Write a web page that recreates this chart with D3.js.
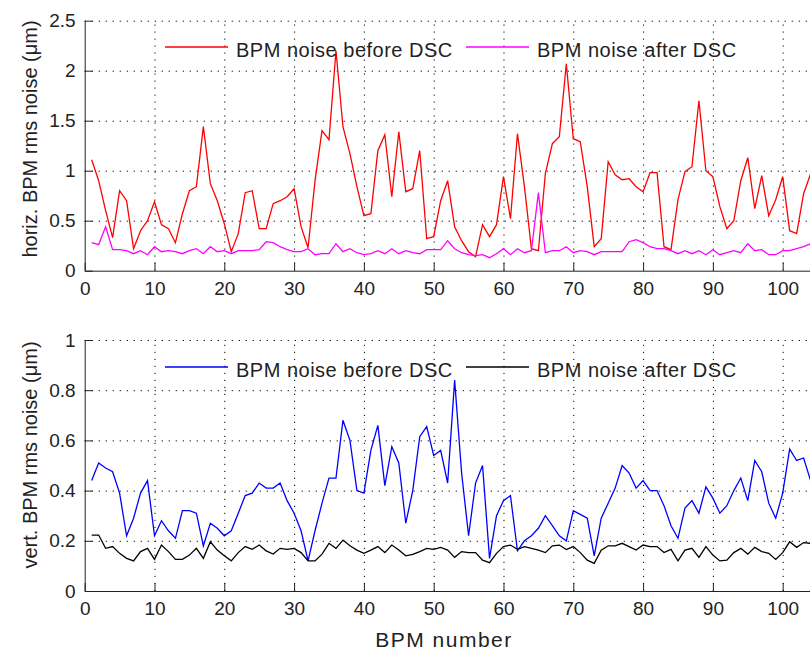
<!DOCTYPE html>
<html>
<head>
<meta charset="utf-8">
<script src="https://cdn.jsdelivr.net/npm/d3@7"></script>
<style>
  body { margin: 0; background: #fff; }
  svg { display: block; font-family: "Liberation Sans", Arial, sans-serif; }
  .tick text { fill: #222; }
  .grid line { stroke: #000; stroke-dasharray: 1.2 5.8; }
  .grid path { display: none; }
  .axis path, .axis line { stroke: #222; }
</style>
</head>
<body>
<svg id="chart"></svg>
<script>
// BPM index along x
const bpmNumbers = d3.range(1, 105);
const xTicks = [0, 10, 20, 30, 40, 50, 60, 70, 80, 90, 100];
const horizTicks = [0, 0.5, 1, 1.5, 2, 2.5];
const vertTicks = [0, 0.2, 0.4, 0.6, 0.8, 1];

// horizontal noise, um
const horizBefore = [
  1.11, 0.9, 0.6, 0.33, 0.8, 0.7, 0.22, 0.4, 0.5, 0.69,
  0.46, 0.42, 0.28, 0.57, 0.8, 0.84, 1.44, 0.87, 0.7, 0.47,
  0.19, 0.37, 0.78, 0.8, 0.42, 0.42, 0.67, 0.7, 0.74, 0.82,
  0.44, 0.23, 0.9, 1.4, 1.31, 2.2, 1.44, 1.17, 0.84, 0.55,
  0.57, 1.2, 1.36, 0.74, 1.39, 0.79, 0.82, 1.2, 0.32, 0.34,
  0.7, 0.9, 0.44, 0.3, 0.19, 0.14, 0.46, 0.34, 0.46, 0.94,
  0.52, 1.37, 0.84, 0.22, 0.2, 0.97, 1.27, 1.34, 2.07, 1.32,
  1.29, 0.84, 0.24, 0.32, 1.09, 0.96, 0.91, 0.92, 0.84, 0.79,
  0.98, 0.98, 0.24, 0.21, 0.71, 0.99, 1.04, 1.7, 1.0, 0.94,
  0.64, 0.42, 0.5, 0.9, 1.13, 0.62, 0.95, 0.55, 0.71, 0.94,
  0.4, 0.37, 0.77, 0.97
];
const horizAfter = [
  0.28, 0.26, 0.44, 0.21, 0.21, 0.2, 0.17, 0.2, 0.16, 0.24,
  0.19, 0.2, 0.19, 0.17, 0.2, 0.22, 0.17, 0.24, 0.19, 0.2,
  0.17, 0.2, 0.2, 0.2, 0.21, 0.29, 0.28, 0.24, 0.21, 0.19,
  0.19, 0.22, 0.16, 0.17, 0.17, 0.27, 0.19, 0.22, 0.18, 0.16,
  0.17, 0.2, 0.17, 0.22, 0.17, 0.2, 0.18, 0.17, 0.21, 0.21,
  0.21, 0.3, 0.22, 0.18, 0.16, 0.15, 0.16, 0.13, 0.17, 0.22,
  0.16, 0.22, 0.18, 0.2, 0.78, 0.18, 0.2, 0.2, 0.24, 0.18,
  0.2, 0.19, 0.16, 0.19, 0.19, 0.19, 0.19, 0.29, 0.31, 0.28,
  0.24, 0.22, 0.22, 0.2, 0.17, 0.2, 0.17, 0.2, 0.16, 0.21,
  0.16, 0.18, 0.2, 0.18, 0.27, 0.2, 0.21, 0.16, 0.16, 0.2,
  0.2, 0.22, 0.24, 0.27
];

// vertical noise, um
const vertBefore = [
  0.44, 0.51, 0.49, 0.475, 0.39, 0.22, 0.29, 0.39, 0.44, 0.22,
  0.28, 0.24, 0.21, 0.32, 0.32, 0.31, 0.18, 0.27, 0.25, 0.22,
  0.24, 0.31, 0.38, 0.39, 0.43, 0.41, 0.41, 0.43, 0.36, 0.31,
  0.24, 0.12, 0.24, 0.35, 0.45, 0.45, 0.68, 0.6, 0.4, 0.39,
  0.56, 0.66, 0.42, 0.575, 0.51, 0.27, 0.4, 0.615, 0.655, 0.54,
  0.56, 0.43, 0.84, 0.47, 0.22, 0.43, 0.5, 0.13, 0.3, 0.36,
  0.38, 0.16, 0.2, 0.22, 0.25, 0.3, 0.26, 0.22, 0.2, 0.32,
  0.305, 0.29, 0.14, 0.29, 0.35, 0.41, 0.5, 0.47, 0.41, 0.44,
  0.4, 0.4, 0.34, 0.26, 0.21, 0.33, 0.36, 0.31, 0.415, 0.37,
  0.31, 0.34, 0.4, 0.45, 0.36, 0.52, 0.475, 0.35, 0.29, 0.39,
  0.565, 0.52, 0.53, 0.44
];
const vertAfter = [
  0.223, 0.223, 0.17, 0.177, 0.15, 0.13, 0.12, 0.157, 0.17, 0.126,
  0.183, 0.157, 0.126, 0.126, 0.143, 0.17, 0.13, 0.196, 0.163, 0.14,
  0.12, 0.153, 0.177, 0.166, 0.183, 0.16, 0.147, 0.17, 0.166, 0.17,
  0.153, 0.12, 0.12, 0.147, 0.19, 0.17, 0.203, 0.18, 0.163, 0.15,
  0.163, 0.177, 0.153, 0.183, 0.163, 0.14, 0.146, 0.157, 0.17, 0.166,
  0.174, 0.163, 0.134, 0.157, 0.153, 0.153, 0.123, 0.113, 0.15, 0.177,
  0.183, 0.166, 0.177, 0.17, 0.163, 0.153, 0.18, 0.183, 0.165, 0.177,
  0.153, 0.123, 0.11, 0.163, 0.18, 0.18, 0.19, 0.177, 0.163, 0.183,
  0.177, 0.177, 0.153, 0.166, 0.12, 0.163, 0.17, 0.134, 0.177, 0.143,
  0.12, 0.123, 0.153, 0.17, 0.147, 0.174, 0.157, 0.15, 0.126, 0.153,
  0.196, 0.174, 0.193, 0.19
];

const width = 810, height = 652;
const svg = d3.select('#chart').attr('width', width).attr('height', height);

const x = d3.scaleLinear().domain([0, 104]).range([84.7, 810.6]);

function drawPanel(opts) {
  const y = d3.scaleLinear().domain(opts.domain).range([opts.bottom, opts.top]);
  const g = svg.append('g');

  // dotted grid
  g.append('g').attr('class', 'grid')
    .attr('transform', `translate(0,${opts.bottom})`)
    .call(d3.axisBottom(x).tickValues(xTicks.slice(1)).tickSize(-(opts.bottom - opts.top)).tickFormat(''));
  g.append('g').attr('class', 'grid')
    .attr('transform', `translate(${x(0)},0)`)
    .call(d3.axisLeft(y).tickValues(opts.ticks.slice(1)).tickSize(-(x.range()[1] - x(0))).tickFormat(''));

  // axes with inward ticks
  g.append('g').attr('class', 'axis')
    .attr('transform', `translate(0,${opts.bottom})`)
    .call(d3.axisBottom(x).tickValues(xTicks).tickSizeInner(-8).tickSizeOuter(0).tickPadding(11));
  g.append('g').attr('class', 'axis')
    .attr('transform', `translate(${x(0)},0)`)
    .call(d3.axisLeft(y).tickValues(opts.ticks).tickSizeInner(-8).tickSizeOuter(0).tickPadding(9)
      .tickFormat(d3.format('')));
  g.selectAll('.axis text').style('font-size', '19px');

  const line = d3.line().x((d, i) => x(bpmNumbers[i])).y(d => y(d));
  opts.series.forEach(s => {
    g.append('path').datum(s.values)
      .attr('fill', 'none').attr('stroke', s.color).attr('stroke-width', 1.3)
      .attr('d', line);
  });

  // legend, no box
  opts.series.forEach(s => {
    g.append('line')
      .attr('x1', s.lx).attr('x2', s.lx + 63)
      .attr('y1', opts.legendY).attr('y2', opts.legendY)
      .attr('stroke', s.color).attr('stroke-width', 1.3);
    g.append('text')
      .attr('x', s.lx + 71).attr('y', opts.legendY + 9.5)
      .attr('fill', '#222').style('font-size', '20px').style('letter-spacing', '0.5px')
      .text(s.name);
  });

  g.append('text')
    .attr('transform', `translate(37,${opts.labelY}) rotate(-90)`)
    .attr('text-anchor', 'middle')
    .attr('fill', '#222').style('font-size', '20px')
    .text(opts.label);
}

drawPanel({
  domain: [0, 2.5], ticks: horizTicks, top: 20.7, bottom: 270.7,
  legendY: 47, labelY: 139, label: 'horiz. BPM rms noise (μm)',
  series: [
    { values: horizBefore, color: '#ff0000', name: 'BPM noise before DSC', lx: 165 },
    { values: horizAfter, color: '#ff00ff', name: 'BPM noise after DSC', lx: 466 }
  ]
});

drawPanel({
  domain: [0, 1], ticks: vertTicks, top: 340, bottom: 591,
  legendY: 367, labelY: 455, label: 'vert. BPM rms noise (μm)',
  series: [
    { values: vertBefore, color: '#0000ff', name: 'BPM noise before DSC', lx: 165 },
    { values: vertAfter, color: '#000000', name: 'BPM noise after DSC', lx: 466 }
  ]
});

svg.append('text')
  .attr('x', 444).attr('y', 647)
  .attr('text-anchor', 'middle')
  .attr('fill', '#222').style('font-size', '21px').style('letter-spacing', '1.5px')
  .text('BPM number');
</script>
</body>
</html>
